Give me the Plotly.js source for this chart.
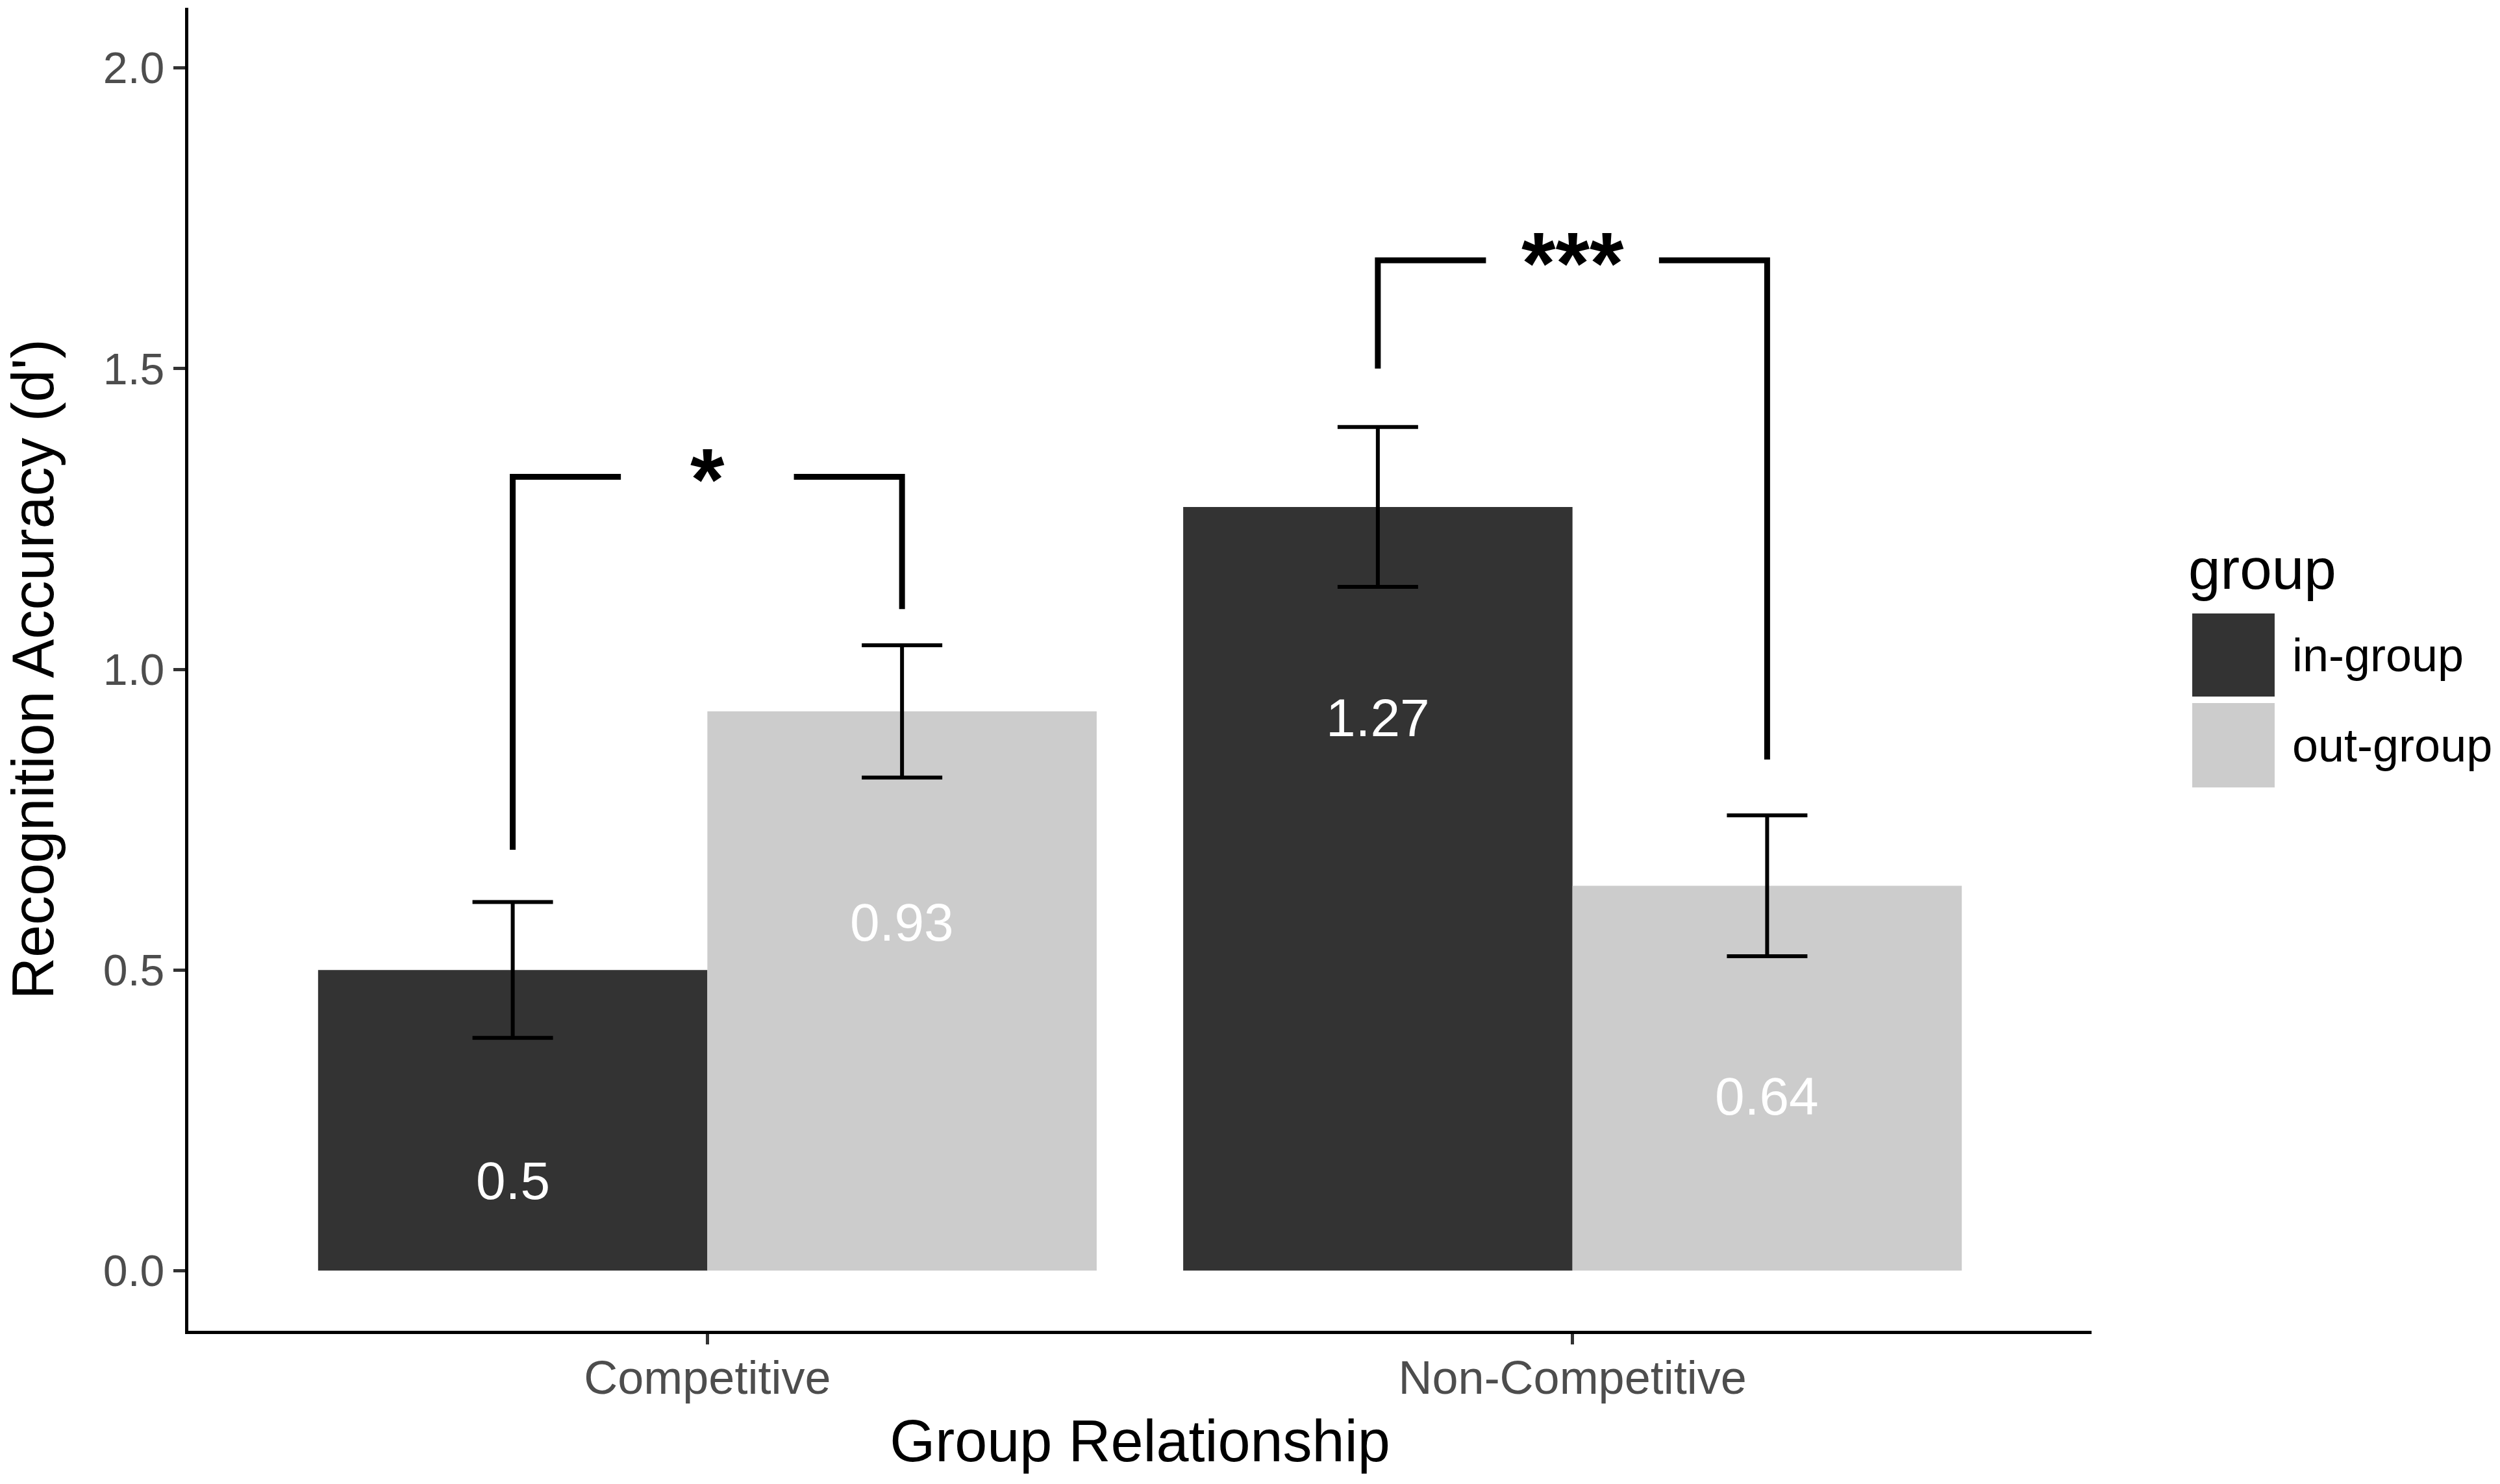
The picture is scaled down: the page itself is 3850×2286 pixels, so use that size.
<!DOCTYPE html>
<html>
<head>
<meta charset="utf-8">
<script src="https://cdn.plot.ly/plotly-3.0.1.min.js"></script>
<style>html,body{margin:0;padding:0;background:#fff}</style>
</head>
<body>
<div id="myDiv" style="width:3850px;height:2286px"></div>
<script>
// values
var relationships = ["Competitive", "Non-Competitive"];
var groups = ["in-group", "out-group"];
var inGroup = [0.50, 1.27];
var outGroup = [0.93, 0.64];
var inGroupSE = [0.113, 0.133];
var outGroupSE = [0.11, 0.117];
var groupColors = ["#333333", "#cccccc"];

// significance brackets (one per relationship)
var sigLabels = ["*", "***"];
var sigTop = [1.32, 1.68];
var sigLeftFoot = [0.70, 1.50];
var sigRightFoot = [1.10, 0.85];

var font = "Liberation Sans, Arial, Helvetica, sans-serif";
var xpos = relationships.map(function (r, i) { return i + 1; });
var half = 0.225; // dodge offset of each bar

var data = [{
    type: "bar",
    name: groups[0],
    x: xpos,
    y: inGroup,
    marker: {color: groupColors[0]},
    error_y: {type: "data", array: inGroupSE, visible: true, color: "#000", thickness: 6, width: 62}
}, {
    type: "bar",
    name: groups[1],
    x: xpos,
    y: outGroup,
    marker: {color: groupColors[1]},
    error_y: {type: "data", array: outGroupSE, visible: true, color: "#000", thickness: 6, width: 62}
}]

var annotations = [];
var shapes = [];

// value labels inside the bars
for (let i = 0; i < xpos.length; i++) {
    [inGroup, outGroup].forEach(function (vals, g) {
        annotations.push({
            x: xpos[i] + (g == 0 ? -half : half), y: vals[i] - 0.35,
            xref: "x", yref: "y", text: String(vals[i]), showarrow: false,
            font: {family: font, size: 82, color: "#ffffff"}
        });
    });
}

// brackets with stars
for (let i = 0; i < xpos.length; i++) {
    let xl = xpos[i] - half, xr = xpos[i] + half;
    shapes.push({
        type: "path", xref: "x", yref: "y",
        path: "M" + xl + "," + sigLeftFoot[i] + " L" + xl + "," + sigTop[i] + " L" + (xpos[i] - 0.1) + "," + sigTop[i],
        line: {color: "#000", width: 9}
    });
    shapes.push({
        type: "path", xref: "x", yref: "y",
        path: "M" + (xpos[i] + 0.1) + "," + sigTop[i] + " L" + xr + "," + sigTop[i] + " L" + xr + "," + sigRightFoot[i],
        line: {color: "#000", width: 9}
    });
    annotations.push({
        x: xpos[i], y: sigTop[i], xref: "x", yref: "y", text: "<b>" + sigLabels[i] + "</b>",
        showarrow: false, yanchor: "middle", yshift: -4,
        font: {family: font, size: 135, color: "#000"}
    });
}

// legend drawn by hand so the keys can be as big as the original
annotations.push({
    x: 1.050, y: 0.576, xref: "paper", yref: "paper", xanchor: "left", yanchor: "middle",
    text: "group", showarrow: false, font: {family: font, size: 89, color: "#000"}
});
var keyY = [[0.4794, 0.5422], [0.4107, 0.4745]];
groups.forEach(function (g, k) {
    shapes.push({
        type: "rect", xref: "paper", yref: "paper",
        x0: 1.0529, x1: 1.0962, y0: keyY[k][0], y1: keyY[k][1],
        fillcolor: groupColors[k], line: {width: 0}
    });
    annotations.push({
        x: 1.1047, y: (keyY[k][0] + keyY[k][1]) / 2, xref: "paper", yref: "paper",
        xanchor: "left", yanchor: "middle", text: g, showarrow: false,
        font: {family: font, size: 72, color: "#000"}
    });
});

var layout = {
    width: 3850,
    height: 2286,
    margin: {t: 12, b: 236, l: 290, r: 629},
    paper_bgcolor: "#fff",
    plot_bgcolor: "#fff",
    showlegend: false,
    barmode: "group",
    bargap: 0.1,
    bargroupgap: 0,
    font: {family: font},
    xaxis: {
        range: [0.4, 2.6],
        tickvals: xpos,
        ticktext: relationships,
        showgrid: false, zeroline: false,
        showline: true, linecolor: "#000", linewidth: 5,
        ticks: "outside", ticklen: 16, tickwidth: 5, tickcolor: "#333",
        ticklabelstandoff: -10,
        tickfont: {family: font, size: 72, color: "#4d4d4d"},
        title: {text: "Group Relationship", font: {family: font, size: 90, color: "#000"}, standoff: 28}
    },
    yaxis: {
        range: [-0.1, 2.1],
        tickvals: [0, 0.5, 1, 1.5, 2],
        tickformat: ".1f",
        showgrid: false, zeroline: false,
        showline: true, linecolor: "#000", linewidth: 5,
        ticks: "outside", ticklen: 18, tickwidth: 5, tickcolor: "#333",
        tickfont: {family: font, size: 68, color: "#4d4d4d"},
        title: {text: "Recognition Accuracy (d')", font: {family: font, size: 90, color: "#000"}, standoff: 48}
    },
    annotations: annotations,
    shapes: shapes
}

Plotly.newPlot('myDiv', data, layout, {displayModeBar: false})
</script>
</body>
</html>
